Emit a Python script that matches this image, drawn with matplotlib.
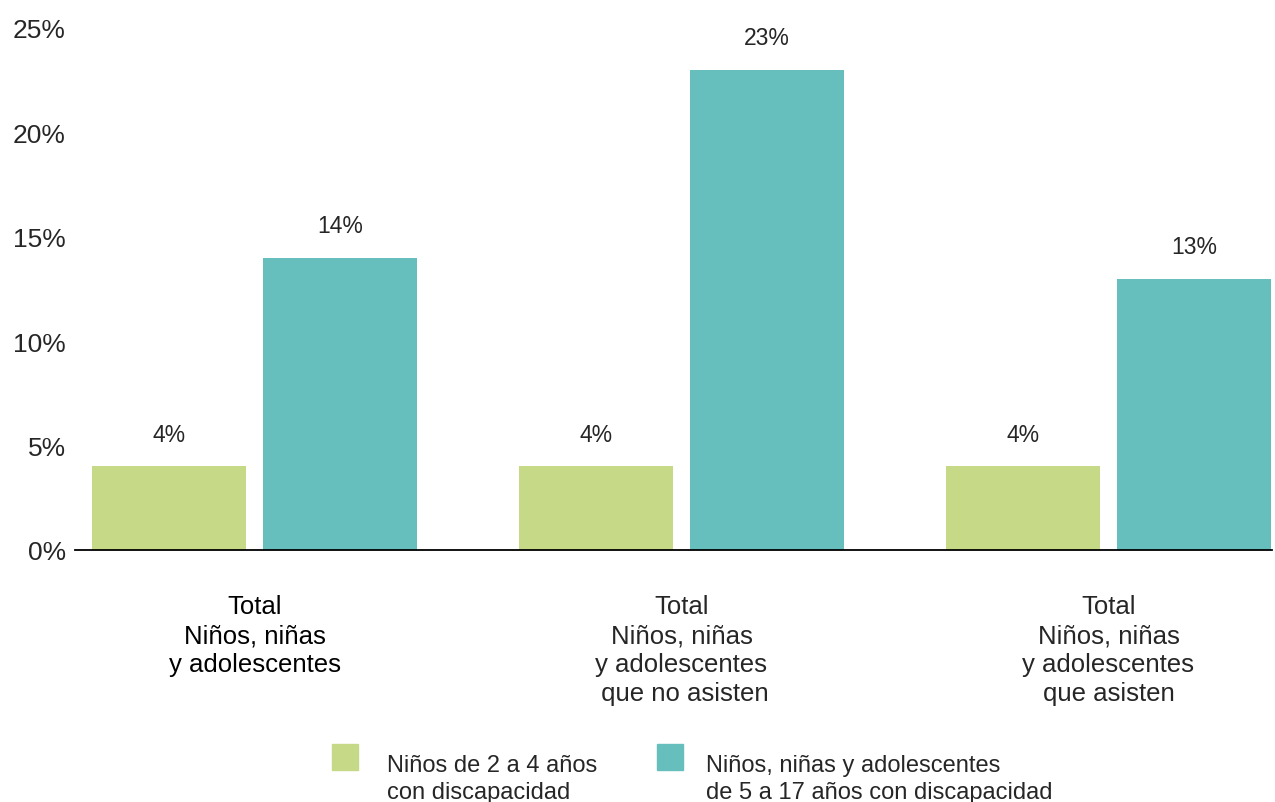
import matplotlib.pyplot as plt
import numpy as np
from matplotlib.patches import Rectangle
from matplotlib.transforms import blended_transform_factory

# datos
categorias = [
    "Total\nNiños, niñas\ny adolescentes",
    "Total\nNiños, niñas\ny adolescentes\n que no asisten",
    "Total\nNiños, niñas\ny adolescentes\nque asisten",
]
ninos_2_4 = [4, 4, 4]
ninos_5_17 = [14, 23, 13]
series_nombres = ["Niños de 2 a 4 años\ncon discapacidad",
                  "Niños, niñas y adolescentes\nde 5 a 17 años con discapacidad"]
yticks = [0, 5, 10, 15, 20, 25]

verde = "#c6d987"
turquesa = "#66bfbc"
gris_texto = "#262626"

plt.rcParams['font.family'] = ['Liberation Sans', 'DejaVu Sans']

W, H = 1275, 803
fig = plt.figure(figsize=(W / 100, H / 100), dpi=100)
ax = fig.add_axes([75 / W, 1 - 551 / H, (1272 - 75) / W, (551 - 29) / H])

x = np.arange(len(categorias))
ancho = 0.3607
desp = 0.2002

b1 = ax.bar(x - desp, ninos_2_4, ancho, color=verde)
b2 = ax.bar(x + desp, ninos_5_17, ancho, color=turquesa)

for barras in (b1, b2):
    for b in barras:
        ax.annotate(f"{b.get_height():.0f}%",
                    (b.get_x() + b.get_width() / 2, b.get_height()),
                    xytext=(0, 18.7), textcoords="offset points",
                    ha="center", va="baseline", fontsize=16.5,
                    color=gris_texto)

ax.set_xlim(-0.4204, 2.383)
ax.set_ylim(0, 24.95)
ax.set_yticks(yticks)
ax.set_yticklabels([f"{v}%" for v in yticks], fontsize=19, color=gris_texto)
ax.tick_params(axis="y", length=0, pad=6.5)
ax.set_xticks([])

for s in ("top", "right", "left"):
    ax.spines[s].set_visible(False)
ax.spines["bottom"].set_linewidth(1.3)
ax.spines["bottom"].set_color("black")

trans = blended_transform_factory(ax.transData, fig.transFigure)
for i, cat in enumerate(categorias):
    ax.text(x[i], 1 - 595 / H, cat, transform=trans, ha="center", va="top",
            fontsize=18.5, linespacing=1.27,
            color="black" if i == 0 else gris_texto)

# leyenda manual
for xc, xt, col, nombre in [(332, 387, verde, series_nombres[0]),
                            (657, 706, turquesa, series_nombres[1])]:
    fig.patches.append(Rectangle((xc / W, 1 - 771 / H), 26 / W, 26 / H,
                                 transform=fig.transFigure, color=col))
    fig.text(xt / W, 1 - 755 / H, nombre, ha="left", va="top", fontsize=17,
             linespacing=1.3, color=gris_texto)

fig.savefig("out.png", dpi=100)
